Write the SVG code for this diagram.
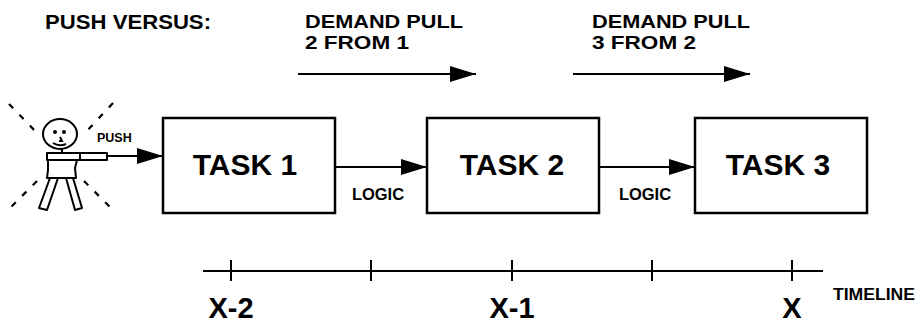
<svg xmlns="http://www.w3.org/2000/svg" width="918" height="324" viewBox="0 0 918 324">
  <style>
    .lbl { font-family: "Liberation Sans", Arial, sans-serif; font-weight: bold; fill: #000; }
    .box { fill: #fff; stroke: #000; stroke-width: 2.5; }
    .ln { fill: none; stroke: #000; stroke-width: 2; }
    .ray { fill: none; stroke: #000; stroke-width: 2.2; stroke-dasharray: 6 9; }
    .fig { fill: #fff; stroke: #000; stroke-width: 2; stroke-linejoin: round; }
  </style>
  <defs>
    <marker id="ah" markerUnits="userSpaceOnUse" markerWidth="27" markerHeight="16" refX="26" refY="8" orient="auto">
      <polygon points="0,0 26,8 0,16" fill="#000"/>
    </marker>
  </defs>
  <rect width="918" height="324" fill="#fff"/>

  <!-- headings -->
  <g id="heading">
    <text class="lbl" x="45" y="29" font-size="20" textLength="166" lengthAdjust="spacingAndGlyphs">PUSH VERSUS:</text>
  </g>
  <g id="pull-1-2">
    <text class="lbl" x="305" y="28" font-size="18.5" textLength="158" lengthAdjust="spacingAndGlyphs">DEMAND PULL</text>
    <text class="lbl" x="305" y="49" font-size="18.5" textLength="104" lengthAdjust="spacingAndGlyphs">2 FROM 1</text>
  </g>
  <g id="pull-2-3">
    <text class="lbl" x="592" y="28" font-size="18.5" textLength="158" lengthAdjust="spacingAndGlyphs">DEMAND PULL</text>
    <text class="lbl" x="592" y="49" font-size="18.5" textLength="104" lengthAdjust="spacingAndGlyphs">3 FROM 2</text>
  </g>

  <!-- pushing person -->
  <g id="person">
    <line class="ray" x1="9" y1="104" x2="38" y2="134"/>
    <line class="ray" x1="113" y1="103" x2="85" y2="133"/>
    <line class="ray" x1="37" y1="181" x2="7" y2="211"/>
    <line class="ray" x1="84" y1="181" x2="114" y2="211"/>
    <ellipse class="fig" cx="60" cy="134" rx="17" ry="15"/>
    <circle cx="55" cy="132" r="2" fill="#000"/>
    <circle cx="64" cy="132" r="2" fill="#000"/>
    <path d="M60,137 L62,141 L59,141" class="ln" stroke-width="1.6"/>
    <path d="M53,143 Q59,147 66,144" class="ln" stroke-width="1.6"/>
    <polygon class="fig" points="50,178 58,178 47,210 39,208"/>
    <polygon class="fig" points="66,178 73,178 82,208 75,210"/>
    <path class="fig" d="M48,160 L48,170 L47,178 L76,178 L75,168 L77,160 Z"/>
    <rect class="fig" x="47" y="153" width="33" height="7"/>
    <rect class="fig" x="80" y="153" width="27" height="7"/>
    <line class="ln" x1="62" y1="149" x2="62" y2="153" stroke-width="1.5"/>
  </g>
  <g id="push-label">
    <text class="lbl" x="97" y="142" font-size="12.5">PUSH</text>
  </g>

  <!-- tasks -->
  <g id="task1">
    <rect class="box" x="163" y="118" width="172" height="95"/>
    <text class="lbl" x="245" y="175" font-size="30" text-anchor="middle">TASK 1</text>
  </g>
  <g id="task2">
    <rect class="box" x="427" y="118" width="172" height="95"/>
    <text class="lbl" x="512" y="175" font-size="30" text-anchor="middle">TASK 2</text>
  </g>
  <g id="task3">
    <rect class="box" x="695" y="118" width="172" height="95"/>
    <text class="lbl" x="778" y="175" font-size="30" text-anchor="middle">TASK 3</text>
  </g>

  <!-- connectors -->
  <g id="connectors">
    <line class="ln" x1="107" y1="156" x2="163" y2="156" marker-end="url(#ah)"/>
    <line class="ln" x1="335" y1="167" x2="427" y2="167" marker-end="url(#ah)"/>
    <line class="ln" x1="599" y1="167" x2="695" y2="167" marker-end="url(#ah)"/>
    <line class="ln" x1="298" y1="74" x2="476" y2="74" marker-end="url(#ah)"/>
    <line class="ln" x1="573" y1="74" x2="750" y2="74" marker-end="url(#ah)"/>
  </g>
  <g id="logic-labels">
    <text class="lbl" x="378" y="200" font-size="16.5" text-anchor="middle">LOGIC</text>
    <text class="lbl" x="645" y="200" font-size="16.5" text-anchor="middle">LOGIC</text>
  </g>

  <!-- timeline -->
  <g id="timeline">
    <line class="ln" x1="203" y1="271" x2="823" y2="271"/>
    <line class="ln" x1="231" y1="260" x2="231" y2="281"/>
    <line class="ln" x1="371" y1="260" x2="371" y2="281"/>
    <line class="ln" x1="512" y1="260" x2="512" y2="281"/>
    <line class="ln" x1="652" y1="260" x2="652" y2="281"/>
    <line class="ln" x1="792" y1="260" x2="792" y2="281"/>
    <text class="lbl" x="231" y="318" font-size="29" text-anchor="middle">X-2</text>
    <text class="lbl" x="512" y="318" font-size="29" text-anchor="middle">X-1</text>
    <text class="lbl" x="792" y="318" font-size="29" text-anchor="middle">X</text>
    <text class="lbl" x="833" y="300" font-size="16" textLength="82" lengthAdjust="spacingAndGlyphs">TIMELINE</text>
  </g>
</svg>
